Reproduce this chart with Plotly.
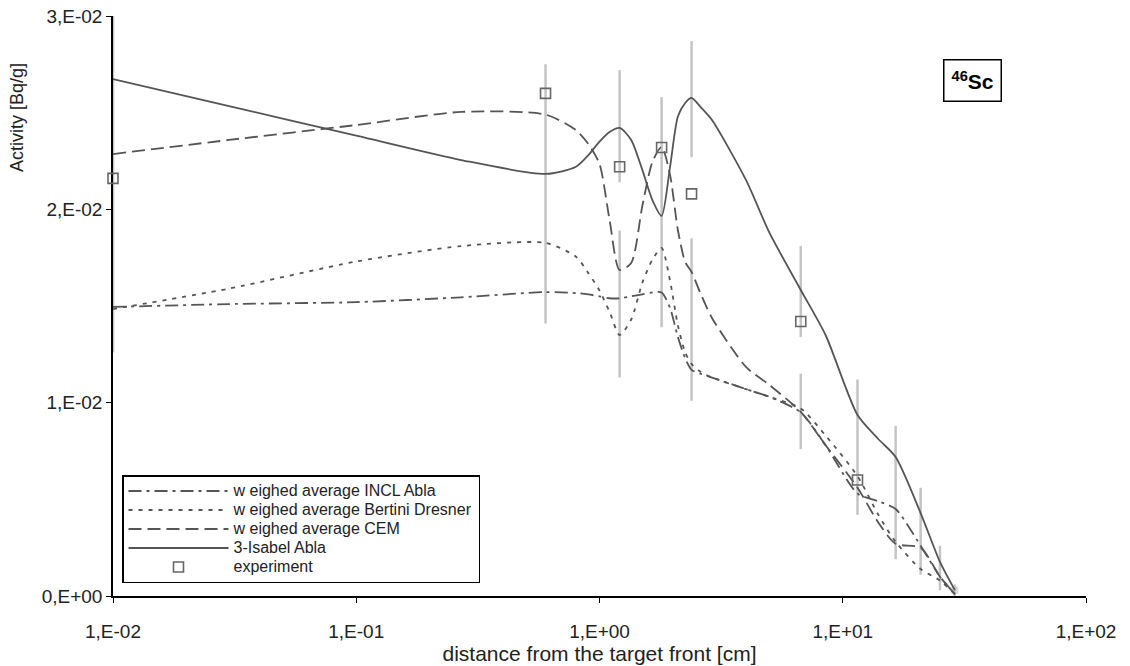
import plotly.graph_objects as go

# ---- model curves (x in cm, activity in Bq/g) ----
x_model = [0.01, 0.03, 0.1, 0.27, 0.6, 0.8, 0.9, 1.0, 1.1, 1.21, 1.35, 1.5, 1.65, 1.8, 1.95,
           2.1, 2.25, 2.39, 2.6, 2.9, 4.0, 5.0, 6.72, 8.5, 11.5, 14.0, 16.5, 20.9, 25.1, 28.9]

incl_abla = [0.01495, 0.0151, 0.0152, 0.01545, 0.01572, 0.01567, 0.0156, 0.0155, 0.0154, 0.0154,
             0.0155, 0.0156, 0.0157, 0.0157, 0.0149, 0.0134, 0.0123, 0.0117, 0.0115, 0.0113,
             0.0107, 0.0103, 0.0095, 0.0078, 0.0053, 0.0049, 0.0045, 0.0026, 0.0010, 0.0001]

bertini_dresner = [0.01484, 0.0159, 0.0173, 0.0181, 0.01826, 0.01755, 0.0167, 0.0158, 0.0147, 0.0135,
                   0.0143, 0.0162, 0.0174, 0.0180, 0.0163, 0.0140, 0.0126, 0.0120, 0.0116, 0.0113,
                   0.0107, 0.0103, 0.0097, 0.0083, 0.0062, 0.0042, 0.0028, 0.0014, 0.0008, 0.0001]

cem = [0.02286, 0.02359, 0.02436, 0.02504, 0.0249, 0.0241, 0.02338, 0.02235, 0.01945, 0.01686,
       0.01722, 0.02017, 0.02245, 0.02323, 0.02178, 0.01893, 0.01728, 0.01676, 0.01567, 0.01438,
       0.01185, 0.01091, 0.00952, 0.0078, 0.0056, 0.0038, 0.0027, 0.0025, 0.0010, 0.0001]

isabel_abla = [0.02674, 0.02534, 0.02381, 0.02255, 0.02183, 0.0222, 0.0228, 0.0235, 0.0240, 0.02421,
               0.02359, 0.02204, 0.02048, 0.01966, 0.0222, 0.0248, 0.0255, 0.02576, 0.0253, 0.02462,
               0.02152, 0.01878, 0.01583, 0.0135, 0.00936, 0.00812, 0.00719, 0.00429, 0.00176, 0.0003]

# ---- experiment ----
x_exp = [0.01, 0.6, 1.21, 1.8, 2.39, 6.72, 11.5]
y_exp = [0.0216, 0.0260, 0.0222, 0.0232, 0.0208, 0.0142, 0.0060]

# ---- uncertainty bars (grey vertical segments) ----
x_bar = [0.01, 0.6, 1.21, 1.21, 1.8, 2.39, 2.39, 6.72, 6.72, 11.5, 16.5, 20.9, 25.1, 28.9]
bar_lo = [0.0126, 0.0141, 0.0214, 0.0113, 0.0139, 0.0227, 0.0101, 0.0134, 0.0076, 0.0042,
          0.0019, 0.0011, 0.0003, 0.0000]
bar_hi = [0.0300, 0.0275, 0.0272, 0.0189, 0.0258, 0.0287, 0.0185, 0.0181, 0.0115, 0.0112,
          0.0088, 0.0056, 0.0026, 0.0006]

x_tickvals = [0.01, 0.1, 1, 10, 100]
x_ticktext = ["1,E-02", "1,E-01", "1,E+00", "1,E+01", "1,E+02"]
y_tickvals = [0, 0.01, 0.02, 0.03]
y_ticktext = ["0,E+00", "1,E-02", "2,E-02", "3,E-02"]

series_names = ["w eighed average INCL Abla", "w eighed average Bertini Dresner",
                "w eighed average CEM", "3-Isabel Abla", "experiment"]

LINE = "#555555"
FONT = "Liberation Sans, Arial, sans-serif"

# page body margin is removed below, so figure pixels == page pixels
PX0, PX1, PY0, PY1 = 113, 1086, 16, 596
W, H = 1130, 666
ML, MT = PX0, PY0
MR, MB = W - PX1, H - PY1


def leg(name):
    # legend text drawn at 16 px while the legend rows keep a tight spacing
    return '<span style="font-size:16px">' + name + "</span>"


fig = go.Figure()

# grey bars
bar_mid = [(a + b) / 2 for a, b in zip(bar_lo, bar_hi)]
bar_half = [(b - a) / 2 for a, b in zip(bar_lo, bar_hi)]
sizes = [0] * (len(x_bar) - 1) + [7]
fig.add_trace(go.Scatter(
    x=x_bar, y=bar_mid, mode="markers", showlegend=False, hoverinfo="skip",
    marker=dict(size=sizes, symbol="square", color="#c8c8c8", line=dict(width=0)),
    error_y=dict(type="data", array=bar_half, symmetric=True, color="#c4c4c4",
                 thickness=2.5, width=0),
    cliponaxis=False,
))

common = dict(mode="lines", line_shape="spline")
fig.add_trace(go.Scatter(
    x=x_model, y=incl_abla, name=leg(series_names[0]), legendrank=1, **common,
    line=dict(color=LINE, width=1.8, dash="13px,5px,3px,5px", smoothing=0.7),
))
fig.add_trace(go.Scatter(
    x=x_model, y=bertini_dresner, name=leg(series_names[1]), legendrank=2, **common,
    line=dict(color=LINE, width=1.8, dash="4px,6px", smoothing=0.7),
))
fig.add_trace(go.Scatter(
    x=x_model, y=cem, name=leg(series_names[2]), legendrank=3, **common,
    line=dict(color=LINE, width=1.8, dash="13px,6px", smoothing=0.7),
))
fig.add_trace(go.Scatter(
    x=x_model, y=isabel_abla, name=leg(series_names[3]), legendrank=4, **common,
    line=dict(color=LINE, width=1.8, smoothing=0.7),
))
fig.add_trace(go.Scatter(
    x=x_exp, y=y_exp, mode="markers", name=leg(series_names[4]), legendrank=5,
    marker=dict(symbol="square-open", size=10, color="#666666", line=dict(width=1.6, color="#666666")),
    cliponaxis=False,
))


def px_x(p):
    return (p - PX0) / (PX1 - PX0)


def px_y(p):
    return (PY1 - p) / (PY1 - PY0)


fig.add_annotation(
    x=px_x(972), y=px_y(80), xref="paper", yref="paper", showarrow=False,
    xanchor="center", yanchor="middle",
    text="<b><sup>46</sup>Sc</b>", font=dict(family=FONT, size=21, color="#000"),
    bordercolor="#000", borderwidth=1.5, borderpad=7, bgcolor="white",
)
fig.add_annotation(
    x=px_x(17), y=px_y(118), xref="paper", yref="paper", showarrow=False, textangle=-90,
    xanchor="center", yanchor="middle",
    text="Activity [Bq/g]", font=dict(family=FONT, size=18, color="#222"),
)

fig.update_layout(
    width=W, height=H,
    margin=dict(l=ML, r=MR, t=MT, b=MB, autoexpand=False),
    paper_bgcolor="white", plot_bgcolor="white",
    font=dict(family=FONT, size=18, color="#222"),
    showlegend=True,
    legend=dict(
        x=px_x(122), y=px_y(583), xanchor="left", yanchor="bottom",
        bordercolor="#000", borderwidth=1.5, bgcolor="white",
        font=dict(family=FONT, size=12, color="#222"),
        tracegroupgap=0, itemwidth=100,
    ),
    xaxis=dict(
        type="log", range=[-2, 2], tickvals=x_tickvals, ticktext=x_ticktext,
        showgrid=False, zeroline=False, showline=True, linecolor="#000", linewidth=1.5,
        ticks="outside", ticklen=5, tickcolor="#000", layer="below traces",
        automargin=False, ticklabelstandoff=12, ticklabeloverflow="allow",
        title=dict(text="distance from the target front [cm]", font=dict(size=21), standoff=5),
        tickfont=dict(size=19),
    ),
    yaxis=dict(
        range=[0, 0.03], tickvals=y_tickvals, ticktext=y_ticktext,
        showgrid=False, zeroline=False, showline=True, linecolor="#000", linewidth=1.5,
        ticks="outside", ticklen=5, tickcolor="#000", layer="below traces",
        automargin=False, ticklabeloverflow="allow",
        tickfont=dict(size=19),
    ),
)

fig.write_html("out.html", config={"displayModeBar": False},
               post_script="document.body.style.margin='0';")
